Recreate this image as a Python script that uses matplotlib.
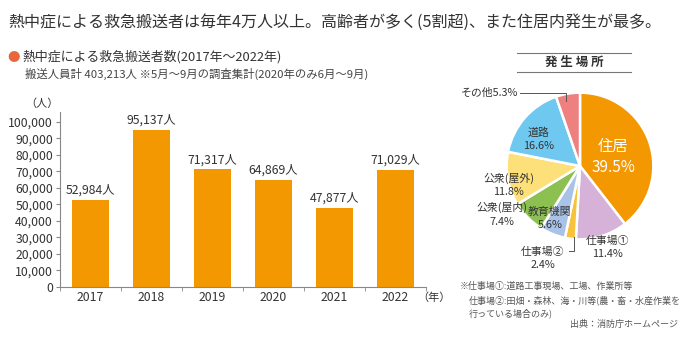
import matplotlib
matplotlib.use("Agg")
import matplotlib.pyplot as plt
import numpy as np

plt.rcParams['font.family'] = ['Noto Sans CJK JP', 'DejaVu Sans']

# data
years = ["2017", "2018", "2019", "2020", "2021", "2022"]
counts = [52984, 95137, 71317, 64869, 47877, 71029]
yticks = list(range(0, 100001, 10000))

places = ["住居", "仕事場①", "仕事場②", "教育機関", "公衆(屋内)", "公衆(屋外)", "道路", "その他"]
shares = [39.5, 11.4, 2.4, 5.6, 7.4, 11.8, 16.6, 5.3]
place_colors = ["#f39800", "#d6b2d9", "#f7c23c", "#a9c3e8", "#8cc152",
                "#fde07a", "#6fc8f0", "#ee8080"]

W, H = 700, 350
fig = plt.figure(figsize=(7, 3.5), dpi=100)
txt = "#333333"

def fx(px):
    return px / W

def fy(py):
    return 1 - py / H

# header
fig.text(fx(8), fy(22), "熱中症による救急搬送者は毎年4万人以上。高齢者が多く(5割超)、また住居内発生が最多。",
         fontsize=11.55, color=txt, va="center", ha="left")
fig.text(fx(7), fy(57), "●", fontsize=9, color="#e8663c", va="center", ha="left")
fig.text(fx(22), fy(57), "熱中症による救急搬送者数(2017年～2022年)",
         fontsize=9.3, color=txt, va="center", ha="left")
fig.text(fx(25), fy(74), "搬送人員計 403,213人 ※5月～9月の調査集計(2020年のみ6月～9月)",
         fontsize=8.2, color="#444444", va="center", ha="left")

# bar chart
ax = fig.add_axes([fx(60), fy(287), fx(426) - fx(60), fy(112) - fy(287)])
x = np.arange(len(years))
ax.bar(x, counts, width=0.6, color="#f39800")
for xi, v in zip(x, counts):
    ax.text(xi, v + 1800, f"{v:,}人", ha="center", va="bottom", fontsize=8.8, color=txt)
ax.set_xlim(-0.5, len(years) - 0.5)
ax.set_ylim(0, 106000)
ax.set_yticks(yticks)
ax.set_yticklabels([f"{t:,}" for t in yticks], fontsize=8.8, color=txt)
ax.set_xticks(x)
ax.set_xticklabels(years, fontsize=8.8, color=txt)
ax.set_xticks(np.arange(len(years) + 1) - 0.5, minor=True)
ax.tick_params(axis="x", which="major", length=0, pad=3)
ax.tick_params(axis="x", which="minor", length=3, direction="out", color="#888888")
ax.tick_params(axis="y", length=3, direction="out", color="#888888", pad=2)
for s in ["top", "right"]:
    ax.spines[s].set_visible(False)
for s in ["left", "bottom"]:
    ax.spines[s].set_color("#888888")
    ax.spines[s].set_linewidth(0.8)
fig.text(fx(42), fy(104), "（人）", fontsize=8, color=txt, va="center", ha="center")
fig.text(fx(417), fy(298), "（年）", fontsize=8, color=txt, va="center", ha="left")

# pie chart
pax = fig.add_axes([fx(580 - 110), fy(166 + 110), fx(220), 220 / H])
pax.pie(shares, colors=place_colors, startangle=90, counterclock=False, radius=1,
        wedgeprops=dict(edgecolor="white", linewidth=1.8))
pax.set_xlim(-1.5, 1.5)
pax.set_ylim(-1.5, 1.5)
pax.set_aspect("equal")
pax.axis("off")

lbl = dict(ha="center", va="center", fontsize=7.8, color=txt, linespacing=1.4)
pax.text(0.45, 0.12, "住居\n39.5%", fontsize=11, color="white", ha="center", va="center",
         linespacing=1.3)
pax.text(-0.56, 0.37, "道路\n16.6%", **lbl)
pax.text(-0.97, -0.26, "公衆(屋外)\n11.8%", **lbl)
pax.text(-1.07, -0.66, "公衆(屋内)\n7.4%", **lbl)
pax.text(-0.41, -0.71, "教育機関\n5.6%", **lbl)
pax.text(0.38, -1.11, "仕事場①\n11.4%", **lbl)
pax.text(-0.51, -1.26, "仕事場②\n2.4%", **lbl)
pax.text(-1.23, 1.0, "その他5.3%", **lbl)
pax.plot([-0.82, -0.19, -0.19], [1.0, 1.0, 0.88], color="#555555", lw=0.7)
pax.plot([-0.08, -0.08, -0.15], [-0.97, -1.16, -1.16], color="#555555", lw=0.7)

# box title
fig.add_artist(plt.Line2D([fx(517), fx(631)], [fy(53), fy(53)], color="#777777", lw=0.8))
fig.add_artist(plt.Line2D([fx(517), fx(631)], [fy(72), fy(72)], color="#777777", lw=0.8))
fig.text(fx(574), fy(62.5), "発 生 場 所", fontsize=9, color=txt, ha="center", va="center",
         fontweight="bold")

# notes
note = dict(fontsize=6.5, color="#555555", ha="left", va="center")
fig.text(fx(460), fy(286), "※仕事場①:道路工事現場、工場、作業所等", **note)
fig.text(fx(469), fy(300), "仕事場②:田畑・森林、海・川等(農・畜・水産作業を", **note)
fig.text(fx(469), fy(313), "行っている場合のみ)", **note)
fig.text(fx(570), fy(324), "出典：消防庁ホームページ", **note)

fig.savefig("out.png", dpi=100)
